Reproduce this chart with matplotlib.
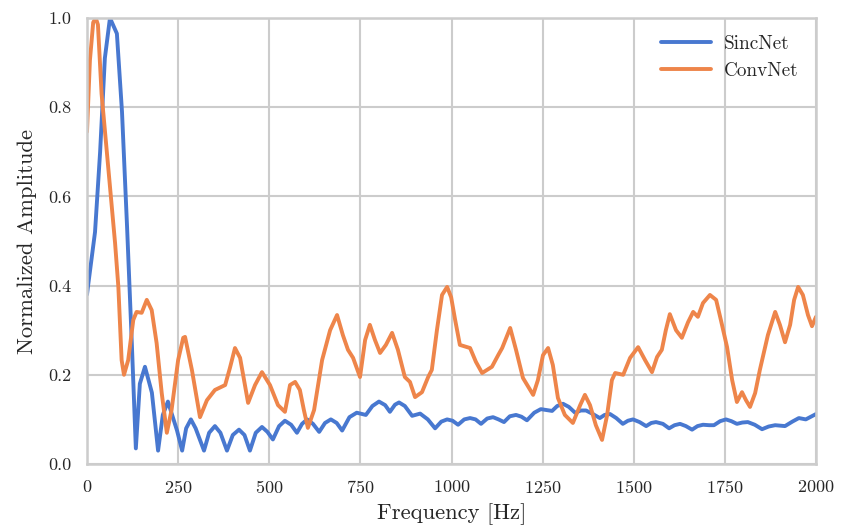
import matplotlib
matplotlib.use("Agg")
import matplotlib.pyplot as plt
import seaborn as sns

sinc_freq = [0, 3, 22, 36, 49, 63, 82, 96, 110, 123, 134, 145, 159, 178, 195, 208, 222, 247, 261,
             272, 285, 298, 321, 335, 351, 366, 384, 400, 417, 432, 447, 463, 480, 495, 510,
             527, 543, 560, 576, 590, 604, 620, 637, 653, 669, 685, 700, 720, 740, 765, 783,
             801, 818, 831, 845, 856, 872, 892, 914, 935, 955, 972, 988, 1003, 1018, 1035,
             1051, 1066, 1081, 1098, 1114, 1129, 1144, 1160, 1177, 1192, 1207, 1227, 1245,
             1276, 1290, 1306, 1322, 1339, 1355, 1369, 1388, 1407, 1420, 1435, 1452, 1470,
             1484, 1498, 1516, 1534, 1548, 1561, 1580, 1597, 1612, 1627, 1643, 1660, 1675,
             1690, 1707, 1720, 1737, 1753, 1768, 1783, 1798, 1813, 1832, 1852, 1870, 1888,
             1915, 1935, 1953, 1972, 2000]
sinc_amp = [0.38, 0.40, 0.52, 0.70, 0.91, 1.0, 0.965, 0.79, 0.53, 0.27, 0.035, 0.18, 0.218, 0.16,
            0.03, 0.11, 0.14, 0.075, 0.03,
            0.08, 0.10, 0.08, 0.03, 0.07, 0.085, 0.07, 0.03, 0.065, 0.077, 0.065, 0.03, 0.07,
            0.083, 0.072, 0.055, 0.085, 0.097, 0.088, 0.07, 0.09, 0.10, 0.09, 0.072, 0.092,
            0.10, 0.092, 0.075, 0.105, 0.115, 0.11, 0.13, 0.14, 0.132, 0.117, 0.133, 0.138,
            0.13, 0.108, 0.113, 0.10, 0.08, 0.095, 0.10, 0.097, 0.088, 0.10, 0.103, 0.10,
            0.09, 0.102, 0.105, 0.10, 0.094, 0.107, 0.11, 0.106, 0.098, 0.115, 0.123, 0.119,
            0.13, 0.135, 0.128, 0.115, 0.12, 0.12, 0.112, 0.103, 0.11, 0.112, 0.103, 0.09,
            0.097, 0.10, 0.094, 0.085, 0.092, 0.094, 0.09, 0.08, 0.087, 0.09, 0.085, 0.077,
            0.085, 0.088, 0.087, 0.087, 0.096, 0.10, 0.096, 0.09, 0.093, 0.094, 0.088, 0.078,
            0.084, 0.087, 0.085, 0.095, 0.103, 0.10, 0.112]

conv_freq = [0, 8, 17, 24, 30, 40, 77, 86, 95, 101.5, 113, 127, 136, 150, 164, 177.5, 191, 205,
             219, 232, 250, 264, 269, 288, 310, 329, 351, 379, 392, 406, 420, 442, 461, 480,
             502, 524, 543, 557, 571, 584, 595, 606, 623, 645, 667, 686, 702, 716, 730, 749,
             763, 776, 790, 804, 820, 837, 853, 872, 886, 900, 919, 936, 946, 960, 974, 988,
             999, 1010, 1023, 1051, 1067, 1084, 1111, 1128, 1139, 1161, 1177, 1196, 1224,
             1237, 1251, 1265, 1278, 1292, 1311, 1333, 1353, 1366, 1380, 1396, 1413, 1427,
             1440, 1449, 1471, 1490, 1512, 1531, 1550, 1564, 1577, 1588, 1599, 1616, 1632,
             1649, 1663, 1676, 1690, 1709, 1726, 1739, 1756, 1770, 1783, 1797, 1808, 1819,
             1833, 1846, 1868, 1888, 1901, 1915, 1929, 1940, 1951, 1964, 1978, 1989, 2000]
conv_amp = [0.745, 0.905, 0.99, 1.0, 0.985, 0.83, 0.4955, 0.3975, 0.233, 0.20, 0.233, 0.323,
            0.341, 0.339, 0.368, 0.345, 0.271, 0.159, 0.07, 0.121, 0.233, 0.283, 0.285, 0.21,
            0.105, 0.143, 0.166, 0.177, 0.215, 0.26, 0.238, 0.137, 0.177, 0.206, 0.177, 0.132,
            0.117, 0.177, 0.184, 0.166, 0.121, 0.081, 0.121, 0.233, 0.30, 0.334, 0.289, 0.256,
            0.238, 0.195, 0.278, 0.312, 0.278, 0.249, 0.267, 0.294, 0.256, 0.195, 0.184, 0.15,
            0.161, 0.195, 0.211, 0.30, 0.379, 0.397, 0.374, 0.323, 0.267, 0.26, 0.229, 0.204,
            0.218, 0.244, 0.26, 0.305, 0.256, 0.193, 0.155, 0.188, 0.244, 0.26, 0.222, 0.148,
            0.11, 0.092, 0.132, 0.155, 0.132, 0.087, 0.054, 0.11, 0.188, 0.204, 0.20, 0.238,
            0.262, 0.233, 0.206, 0.24, 0.256, 0.30, 0.336, 0.30, 0.283, 0.318, 0.341, 0.33,
            0.361, 0.379, 0.368, 0.323, 0.262, 0.188, 0.139, 0.161, 0.143, 0.128, 0.159, 0.211,
            0.289, 0.341, 0.312, 0.273, 0.312, 0.368, 0.397, 0.379, 0.334, 0.309, 0.33]

series_names = ["SincNet", "ConvNet"]
x_label = "Frequency [Hz]"
y_label = "Normalized Amplitude"

sns.set_theme(style="whitegrid", palette="muted")
plt.rcParams["font.family"] = ["cmr10", "DejaVu Serif"]
plt.rcParams["axes.formatter.use_mathtext"] = True
plt.rcParams["mathtext.fontset"] = "cm"

colors = sns.color_palette("muted")

fig = plt.figure(figsize=(8.41, 5.28), dpi=100)
ax = fig.add_axes([87 / 841, 1 - 464 / 528, (816 - 87) / 841, (464 - 18) / 528])

ax.plot(sinc_freq, sinc_amp, color=colors[0], lw=2.8, label=series_names[0],
        solid_joinstyle="round", solid_capstyle="round")
ax.plot(conv_freq, conv_amp, color=colors[1], lw=2.8, label=series_names[1],
        solid_joinstyle="round", solid_capstyle="round")

ax.set_xlim(0, 2000)
ax.set_ylim(0, 1.0)
ax.set_xticks([0, 250, 500, 750, 1000, 1250, 1500, 1750, 2000])
ax.set_yticks([0.0, 0.2, 0.4, 0.6, 0.8, 1.0])
ax.set_yticklabels(["0.0", "0.2", "0.4", "0.6", "0.8", "1.0"])
ax.tick_params(labelsize=13, pad=5)
ax.set_xlabel(x_label, fontsize=16.3, labelpad=5)
ax.set_ylabel(y_label, fontsize=16.3, labelpad=8)
ax.grid(True, color="#cccccc", lw=1.5)
for s in ax.spines.values():
    s.set_color("#cccccc")
    s.set_linewidth(1.8)

leg = ax.legend(loc="upper right", frameon=False, fontsize=13.8, handlelength=2.6,
                borderaxespad=0.5, labelspacing=0.45, handletextpad=0.7)

fig.savefig("out.png", dpi=100)
